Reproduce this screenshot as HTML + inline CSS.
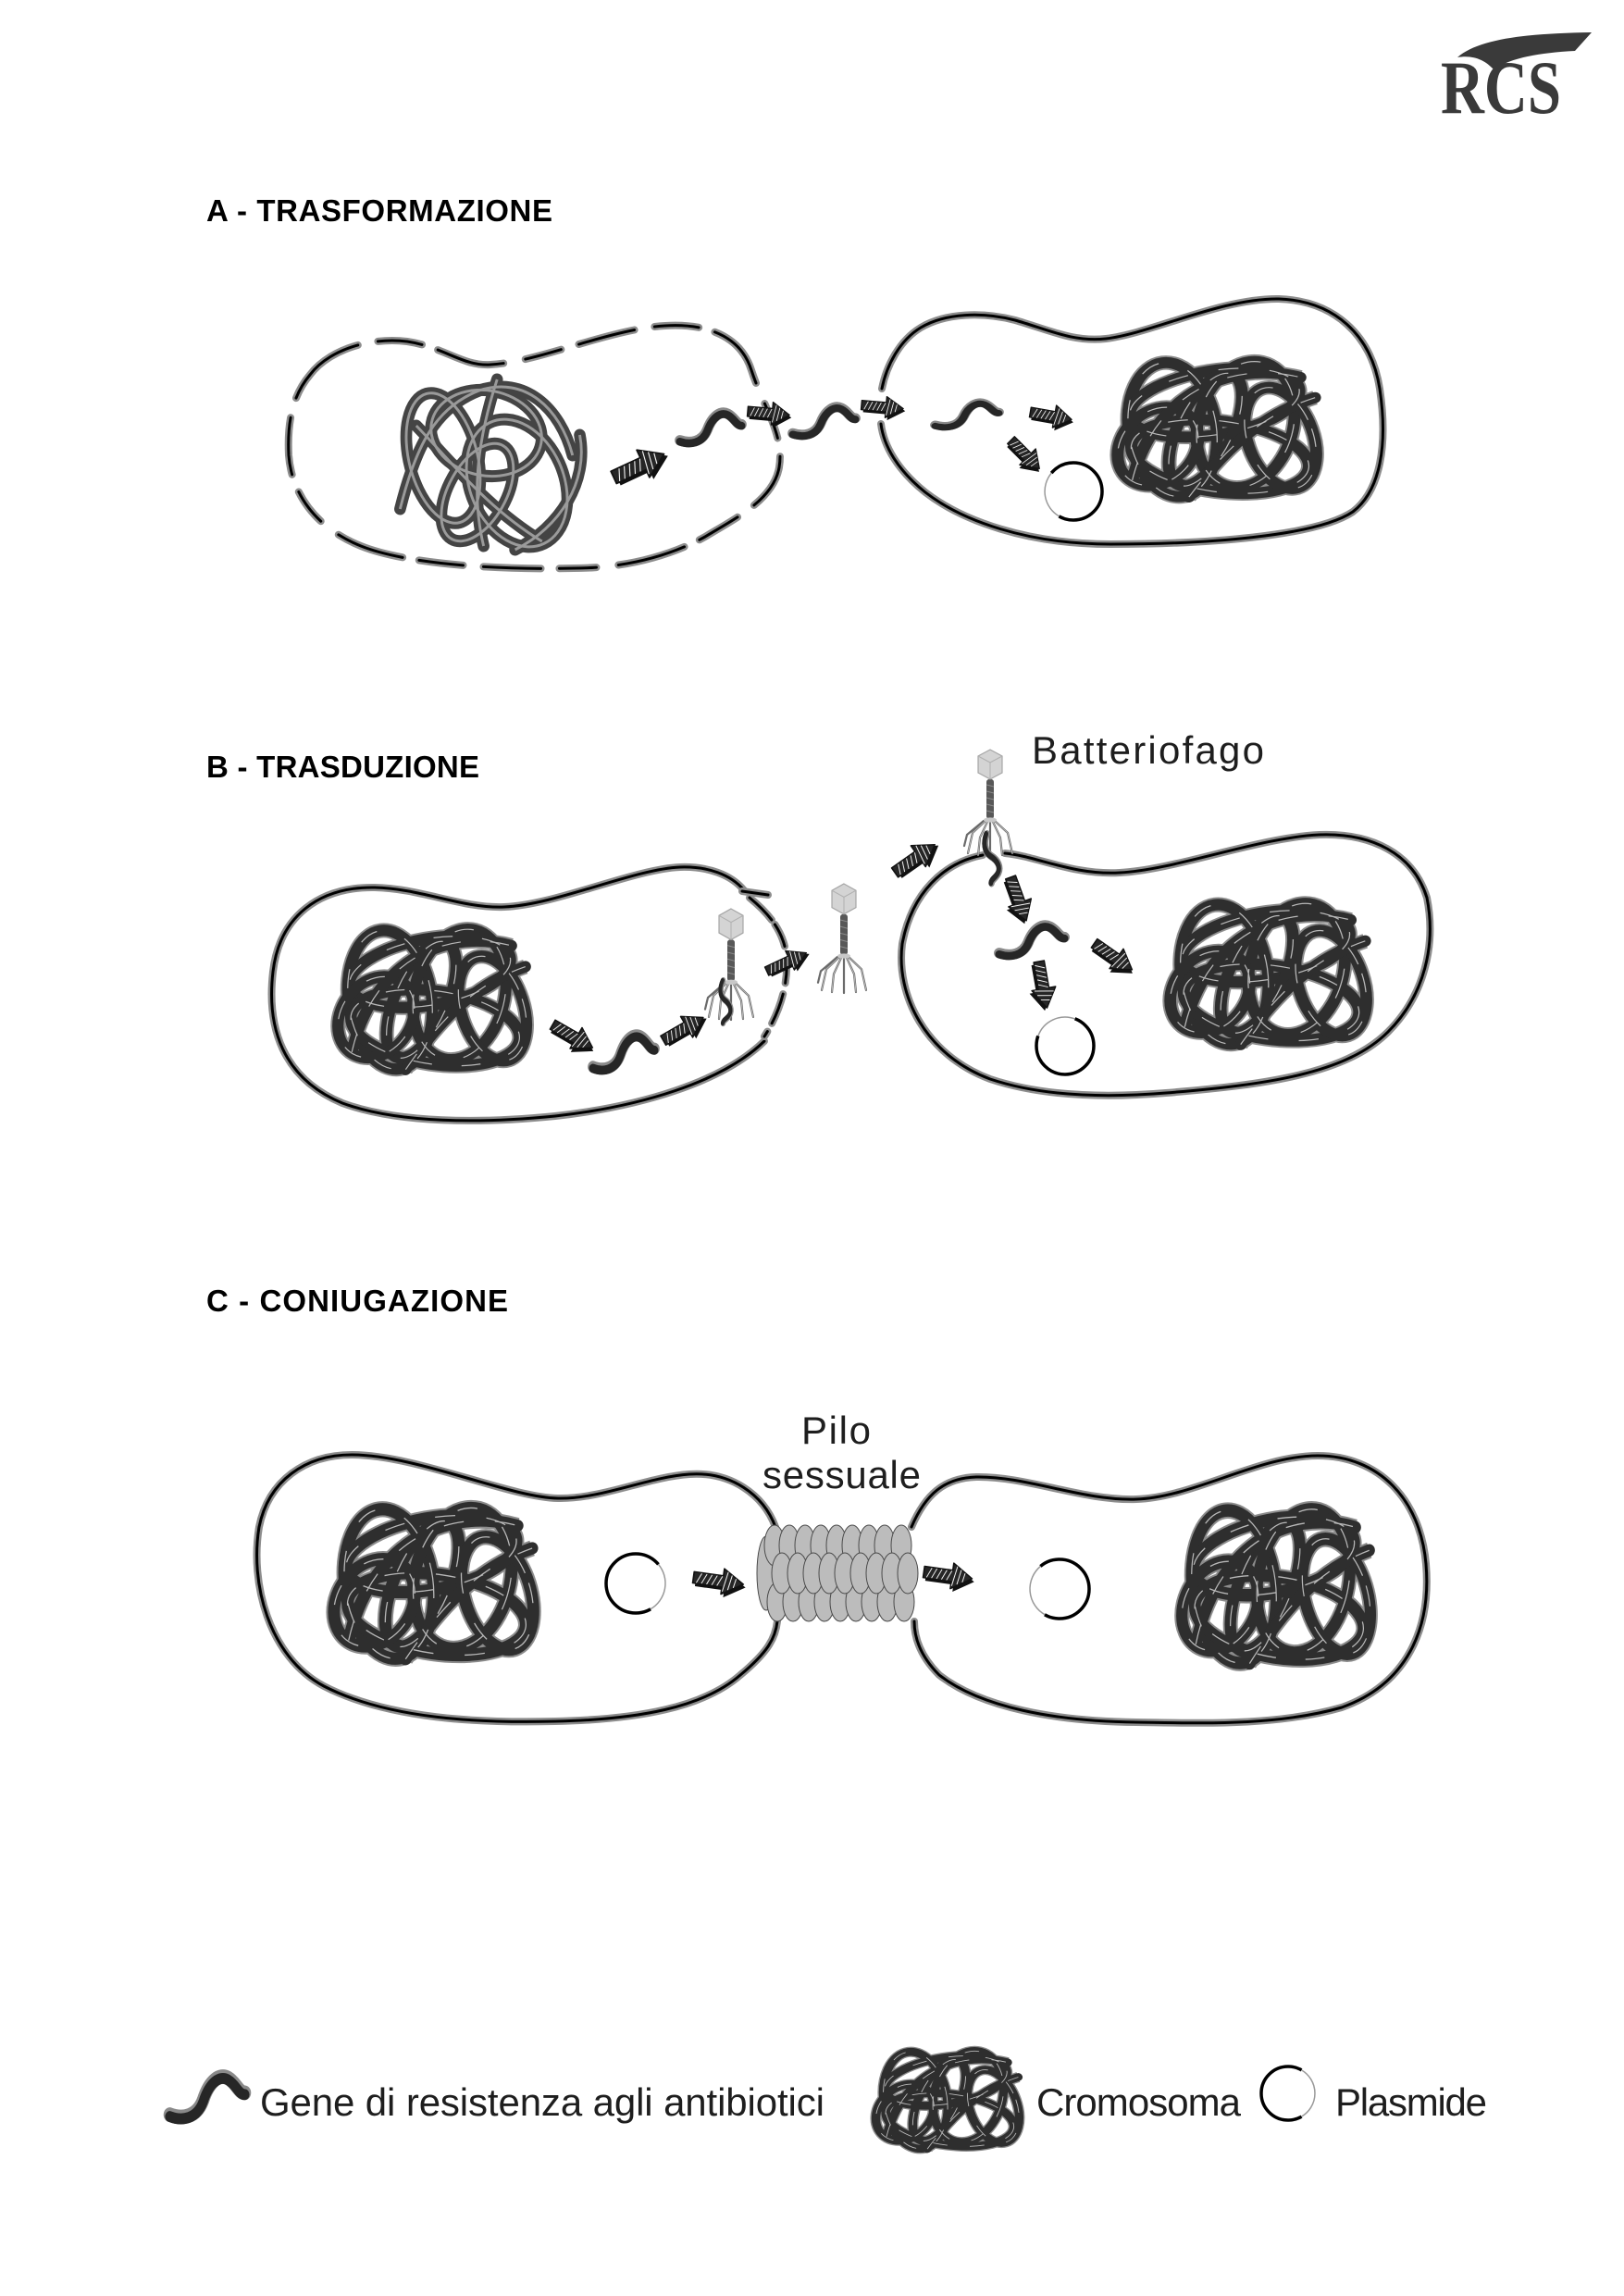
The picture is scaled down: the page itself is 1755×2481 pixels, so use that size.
<!DOCTYPE html>
<html>
<head>
<meta charset="utf-8">
<style>
html,body{margin:0;padding:0;background:#fff;}
svg{display:block;}
.memg{fill:none;stroke:#8d8d8d;stroke-width:8;stroke-linecap:round;}
.memb{fill:none;stroke:#000;stroke-width:3;stroke-linecap:round;}
.head{font-family:"Liberation Sans",Arial,sans-serif;font-weight:bold;font-size:33px;fill:#000;}
.lbl{font-family:"Liberation Sans",Arial,sans-serif;font-size:42px;fill:#1e1e1e;}
</style>
</head>
<body>
<svg width="1755" height="2481" viewBox="0 0 1755 2481" xmlns="http://www.w3.org/2000/svg" xmlns:xlink="http://www.w3.org/1999/xlink">
<defs>
  <symbol id="arr" viewBox="0 0 64 44" preserveAspectRatio="none" style="overflow:visible">
    <polygon points="4,16 38,16 38,6 62,24 38,42 38,32 4,32" fill="#111"/>
    <polygon points="1,12 35,12 35,2 59,20 35,38 35,28 1,28" fill="#262626" stroke="#111" stroke-width="1.8" stroke-linejoin="round"/>
    <g stroke="#f2f2f2" stroke-width="1.1">
      <line x1="5" y1="27" x2="10" y2="13"/>
      <line x1="11" y1="27" x2="16" y2="13"/>
      <line x1="17" y1="27" x2="22" y2="13"/>
      <line x1="23" y1="27" x2="28" y2="13"/>
      <line x1="29" y1="27" x2="34" y2="13"/>
      <line x1="36" y1="34" x2="40" y2="6"/>
      <line x1="42" y1="31" x2="45" y2="10"/>
      <line x1="48" y1="27" x2="50" y2="14"/>
    </g>
  </symbol>

  <symbol id="gene" viewBox="0 0 80 44" preserveAspectRatio="none" style="overflow:visible">
    <path d="M 4 38 C 16 42, 30 40, 36 26 C 42 10, 52 4, 60 8 C 68 12, 70 20, 76 20" fill="none" stroke="#8a8a8a" stroke-width="12" stroke-linecap="round" transform="translate(0,-1.5)"/>
    <path d="M 4 38 C 16 42, 30 40, 36 26 C 42 10, 52 4, 60 8 C 68 12, 70 20, 76 20" fill="none" stroke="#262626" stroke-width="9" stroke-linecap="round"/>
  </symbol>

  <g id="chrS">
    <ellipse cx="72" cy="98" rx="48" ry="80" transform="rotate(-8 72 98)"/>
    <ellipse cx="152" cy="92" rx="52" ry="76" transform="rotate(14 152 92)"/>
    <ellipse cx="118" cy="66" rx="94" ry="38" transform="rotate(-10 118 66)"/>
    <ellipse cx="124" cy="130" rx="98" ry="42" transform="rotate(8 124 130)"/>
    <ellipse cx="108" cy="98" rx="30" ry="72" transform="rotate(24 108 98)"/>
    <ellipse cx="190" cy="108" rx="36" ry="62" transform="rotate(-18 190 108)"/>
    <ellipse cx="56" cy="118" rx="40" ry="50" transform="rotate(38 56 118)"/>
    <path d="M 28 158 C 50 60, 130 14, 212 36"/>
    <path d="M 90 178 C 130 120, 170 80, 228 60"/>
  </g>
  <symbol id="chr" viewBox="0 0 240 190" preserveAspectRatio="none" style="overflow:visible">
    <use href="#chrS" fill="none" stroke="#8c8c8c" stroke-width="17"/>
    <use href="#chrS" fill="none" stroke="#2e2e2e" stroke-width="13" stroke-linecap="round"/>
    <use href="#chrS" fill="none" stroke="#b8b8b8" stroke-width="1.3" stroke-dasharray="22 34"/>
  </symbol>

  <g id="chrAS">
    <ellipse cx="70" cy="95" rx="38" ry="72" transform="rotate(-15 70 95)"/>
    <ellipse cx="118" cy="68" rx="62" ry="46" transform="rotate(10 118 68)"/>
    <ellipse cx="152" cy="122" rx="52" ry="72" transform="rotate(-25 152 122)"/>
    <path d="M 22 150 C 40 80, 62 40, 110 22 C 160 6, 200 40, 214 92"/>
    <ellipse cx="108" cy="132" rx="32" ry="58" transform="rotate(30 108 132)"/>
    <path d="M 150 194 C 200 170, 232 120, 222 70"/>
    <path d="M 40 60 C 80 100, 120 150, 180 185"/>
    <path d="M 130 10 C 110 70, 100 130, 115 190"/>
  </g>
  <symbol id="chrA" viewBox="0 0 240 200" preserveAspectRatio="none" style="overflow:visible">
    <use href="#chrAS" fill="none" stroke="#444" stroke-width="13" stroke-linecap="round"/>
    <use href="#chrAS" fill="none" stroke="#9a9a9a" stroke-width="3"/>
  </symbol>

  <symbol id="phage" viewBox="0 0 60 115" preserveAspectRatio="none" style="overflow:visible">
    <g fill="none" stroke-linecap="round">
      <g stroke="#6a6a6a" stroke-width="2.2">
        <path d="M 25 77 L 11 90 L 6 112"/>
        <path d="M 27 78 L 19 95 L 17 114"/>
        <path d="M 30 78 L 30 115"/>
        <path d="M 33 78 L 41 95 L 43 114"/>
        <path d="M 35 77 L 49 90 L 54 112"/>
        <path d="M 23 77 L 5 92 L 2 104"/>
      </g>
      <g stroke="#c4c4c4" stroke-width="0.8">
        <path d="M 25 77 L 11 90 L 6 112"/>
        <path d="M 27 78 L 19 95 L 17 114"/>
        <path d="M 33 78 L 41 95 L 43 114"/>
        <path d="M 35 77 L 49 90 L 54 112"/>
      </g>
    </g>
    <rect x="26" y="32" width="8" height="43" rx="3" fill="#585858"/>
    <g stroke="#8a8a8a" stroke-width="1">
      <line x1="26" y1="38" x2="34" y2="40"/><line x1="26" y1="45" x2="34" y2="47"/>
      <line x1="26" y1="52" x2="34" y2="54"/><line x1="26" y1="59" x2="34" y2="61"/>
      <line x1="26" y1="66" x2="34" y2="68"/>
    </g>
    <ellipse cx="30" cy="76" rx="7" ry="2.6" fill="#c8c8c8"/>
    <polygon points="30,0 43,7 43,25 30,32 17,25 17,7" fill="#d4d4d4" stroke="#a6a6a6" stroke-width="1.2"/>
    <polyline points="17,7 30,14 43,7" fill="none" stroke="#b0b0b0" stroke-width="1"/>
    <line x1="30" y1="14" x2="30" y2="32" stroke="#b0b0b0" stroke-width="1"/>
  </symbol>
</defs>

<!-- Logo -->
<path d="M 1575 62 C 1598 42, 1650 36, 1720 35 L 1702 55 C 1662 57, 1632 63, 1614 75 C 1605 65, 1592 59, 1575 62 Z" fill="#3a3a3a"/>
<text x="1557" y="122" font-family="'Liberation Serif','Times New Roman',serif" font-weight="bold" font-size="82" fill="#3a3a3a" textLength="130" lengthAdjust="spacingAndGlyphs">RCS</text>

<!-- Headings -->
<text class="head" x="223" y="239" textLength="374" lengthAdjust="spacing">A - TRASFORMAZIONE</text>
<text class="head" x="223" y="840" textLength="295" lengthAdjust="spacing">B - TRASDUZIONE</text>
<text class="head" x="223" y="1417" textLength="326" lengthAdjust="spacing">C - CONIUGAZIONE</text>

<!-- ============ SECTION A ============ -->
<g>
  <path class="memg" stroke-dasharray="62 22 48 18 74 24 40 20" d="M 335 405 C 355 378, 400 364, 440 369 C 480 375, 500 396, 530 394 C 580 391, 640 363, 700 354 C 760 345, 800 362, 812 400 C 825 440, 848 470, 842 505 C 836 540, 795 560, 762 580 C 722 602, 672 614, 620 614 C 540 616, 440 610, 390 590 C 340 570, 315 532, 312 492 C 310 452, 318 425, 335 405 Z"/>
  <path class="memb" stroke-dasharray="62 22 48 18 74 24 40 20" d="M 335 405 C 355 378, 400 364, 440 369 C 480 375, 500 396, 530 394 C 580 391, 640 363, 700 354 C 760 345, 800 362, 812 400 C 825 440, 848 470, 842 505 C 836 540, 795 560, 762 580 C 722 602, 672 614, 620 614 C 540 616, 440 610, 390 590 C 340 570, 315 532, 312 492 C 310 452, 318 425, 335 405 Z"/>
</g>
<use href="#chrA" x="411" y="400" width="233" height="200"/>

<path class="memg" d="M 953 420 C 958 395, 972 368, 995 354 C 1022 338, 1062 337, 1097 346 C 1132 356, 1160 370, 1195 366 C 1245 360, 1320 322, 1382 323 C 1442 325, 1482 362, 1491 420 C 1500 480, 1492 530, 1462 553 C 1422 580, 1300 588, 1200 588 C 1110 588, 1040 563, 1000 532 C 970 508, 955 482, 952 458"/>
<path class="memb" d="M 953 420 C 958 395, 972 368, 995 354 C 1022 338, 1062 337, 1097 346 C 1132 356, 1160 370, 1195 366 C 1245 360, 1320 322, 1382 323 C 1442 325, 1482 362, 1491 420 C 1500 480, 1492 530, 1462 553 C 1422 580, 1300 588, 1200 588 C 1110 588, 1040 563, 1000 532 C 970 508, 955 482, 952 458"/>
<use href="#chr" x="1196" y="375" width="237" height="173"/>

<use href="#arr" x="-33" y="-20" width="66" height="40" transform="translate(693 504) rotate(-25)"/>
<use href="#gene" x="-37" y="-21" width="74" height="42" transform="translate(768 462)"/>
<use href="#arr" x="-25" y="-15" width="50" height="30" transform="translate(832 448) rotate(5)"/>
<use href="#gene" x="-37" y="-20" width="75" height="40" transform="translate(890 455)"/>
<use href="#arr" x="-25" y="-14" width="50" height="28" transform="translate(955 441) rotate(5)"/>
<use href="#gene" x="-38" y="-17" width="76" height="34" transform="translate(1045 448)"/>
<use href="#arr" x="-25" y="-15" width="50" height="30" transform="translate(1137 451) rotate(10)"/>
<use href="#arr" x="-24" y="-15" width="48" height="30" transform="translate(1108 493) rotate(45)"/>
<g>
  <circle cx="1160" cy="531" r="31" fill="none" stroke="#000" stroke-width="3.5"/>
  <path d="M 1144.5 557.8 A 31 31 0 0 1 1136.3 511.1" fill="none" stroke="#fff" stroke-width="5"/>
  <path d="M 1144.5 557.8 A 31 31 0 0 1 1136.3 511.1" fill="none" stroke="#999" stroke-width="1.5"/>
</g>

<!-- ============ SECTION B ============ -->
<text class="lbl" x="1115" y="825" font-size="43" textLength="251" lengthAdjust="spacing">Batteriofago</text>

<!-- Left cell B -->
<path class="memg" d="M 804 962 C 790 945, 765 936, 735 937 C 685 939, 600 978, 545 980 C 500 982, 455 960, 405 959 C 345 958, 302 990, 295 1050 C 288 1110, 305 1165, 370 1192 C 430 1214, 520 1214, 600 1206 C 690 1196, 780 1170, 826 1125"/>
<path class="memb" d="M 804 962 C 790 945, 765 936, 735 937 C 685 939, 600 978, 545 980 C 500 982, 455 960, 405 959 C 345 958, 302 990, 295 1050 C 288 1110, 305 1165, 370 1192 C 430 1214, 520 1214, 600 1206 C 690 1196, 780 1170, 826 1125"/>
<path class="memg" d="M 802 963 L 830 967"/>
<path class="memb" d="M 802 963 L 830 967"/>
<path class="memg" stroke-dasharray="34 6 26 22 18 12 34 10" d="M 810 970 C 832 988, 848 1008, 850 1035 C 852 1065, 842 1095, 826 1120"/>
<path class="memb" stroke-dasharray="34 6 26 22 18 12 34 10" d="M 810 970 C 832 988, 848 1008, 850 1035 C 852 1065, 842 1095, 826 1120"/>
<use href="#chr" x="354" y="988" width="225" height="179"/>
<use href="#arr" x="-28" y="-16" width="55" height="32" transform="translate(620 1122) rotate(30)"/>
<use href="#gene" x="-37" y="-24" width="74" height="48" transform="translate(674 1137)"/>
<use href="#arr" x="-28" y="-16" width="55" height="32" transform="translate(741 1112) rotate(-30)"/>
<use href="#phage" x="760" y="982" width="60" height="120"/>
<use href="#gene" x="-25" y="-10" width="50" height="20" transform="translate(784 1083) rotate(100)"/>
<use href="#arr" x="-26" y="-14" width="52" height="28" transform="translate(852 1040) rotate(-25)"/>
<use href="#phage" x="882" y="955" width="60" height="118"/>

<!-- Right cell B -->
<path class="memg" d="M 1062 924 C 1020 932, 985 965, 975 1020 C 968 1075, 1000 1140, 1070 1166 C 1130 1186, 1200 1186, 1260 1181 C 1370 1172, 1455 1160, 1500 1115 C 1540 1075, 1552 1020, 1542 970 C 1527 922, 1482 900, 1426 902 C 1360 905, 1270 940, 1210 943 C 1160 946, 1120 925, 1086 922"/>
<path class="memb" d="M 1062 924 C 1020 932, 985 965, 975 1020 C 968 1075, 1000 1140, 1070 1166 C 1130 1186, 1200 1186, 1260 1181 C 1370 1172, 1455 1160, 1500 1115 C 1540 1075, 1552 1020, 1542 970 C 1527 922, 1482 900, 1426 902 C 1360 905, 1270 940, 1210 943 C 1160 946, 1120 925, 1086 922"/>
<use href="#chr" x="1253" y="960" width="234" height="180"/>
<use href="#phage" x="1040" y="810" width="60" height="115"/>
<use href="#gene" x="-29" y="-12" width="58" height="24" transform="translate(1072 928) rotate(95)"/>
<use href="#arr" x="-29" y="-17" width="58" height="34" transform="translate(991 928) rotate(-35)"/>
<use href="#arr" x="-28" y="-16" width="55" height="32" transform="translate(1100 974) rotate(70)"/>
<use href="#gene" x="-39" y="-21" width="78" height="42" transform="translate(1115 1016)"/>
<use href="#arr" x="-28" y="-16" width="55" height="32" transform="translate(1204 1036) rotate(35)"/>
<use href="#arr" x="-28" y="-16" width="56" height="32" transform="translate(1126 1066) rotate(80)"/>
<g>
  <circle cx="1151" cy="1130" r="31" fill="none" stroke="#000" stroke-width="3.5"/>
  <path d="M 1121.9 1119.4 A 31 31 0 0 1 1161.6 1100.9" fill="none" stroke="#fff" stroke-width="5"/>
  <path d="M 1121.9 1119.4 A 31 31 0 0 1 1161.6 1100.9" fill="none" stroke="#999" stroke-width="1.5"/>
</g>

<!-- ============ SECTION C ============ -->
<text class="lbl" x="866" y="1560" textLength="75" lengthAdjust="spacing">Pilo</text>
<text class="lbl" x="824" y="1608" textLength="171" lengthAdjust="spacing">sessuale</text>

<path class="memg" d="M 838 1650 C 825 1615, 790 1590, 745 1593 C 700 1596, 650 1620, 603 1619 C 550 1618, 450 1572, 380 1572 C 330 1572, 290 1600, 280 1650 C 270 1710, 290 1790, 350 1822 C 420 1858, 520 1862, 600 1860 C 690 1858, 760 1845, 800 1810 C 830 1785, 838 1770, 840 1752"/>
<path class="memb" d="M 838 1650 C 825 1615, 790 1590, 745 1593 C 700 1596, 650 1620, 603 1619 C 550 1618, 450 1572, 380 1572 C 330 1572, 290 1600, 280 1650 C 270 1710, 290 1790, 350 1822 C 420 1858, 520 1862, 600 1860 C 690 1858, 760 1845, 800 1810 C 830 1785, 838 1770, 840 1752"/>
<path class="memg" d="M 985 1650 C 1000 1615, 1020 1597, 1055 1596 C 1110 1595, 1170 1622, 1228 1620 C 1290 1618, 1360 1573, 1424 1573 C 1490 1573, 1535 1620, 1541 1690 C 1547 1760, 1520 1820, 1450 1845 C 1380 1865, 1300 1862, 1228 1861 C 1140 1860, 1060 1845, 1015 1810 C 995 1790, 988 1770, 988 1752"/>
<path class="memb" d="M 985 1650 C 1000 1615, 1020 1597, 1055 1596 C 1110 1595, 1170 1622, 1228 1620 C 1290 1618, 1360 1573, 1424 1573 C 1490 1573, 1535 1620, 1541 1690 C 1547 1760, 1520 1820, 1450 1845 C 1380 1865, 1300 1862, 1228 1861 C 1140 1860, 1060 1845, 1015 1810 C 995 1790, 988 1770, 988 1752"/>

<use href="#chr" x="349" y="1612" width="238" height="193"/>
<use href="#chr" x="1266" y="1613" width="225" height="197"/>

<!-- Pilus -->
<g fill="#bcbcbc" stroke="#4a4a4a" stroke-width="1">
  <ellipse cx="828" cy="1700" rx="10" ry="40"/>
  <ellipse cx="837" cy="1670" rx="11" ry="22"/><ellipse cx="853" cy="1670" rx="11" ry="22"/><ellipse cx="870" cy="1670" rx="11" ry="22"/>
  <ellipse cx="887" cy="1670" rx="11" ry="22"/><ellipse cx="904" cy="1670" rx="11" ry="22"/><ellipse cx="921" cy="1670" rx="11" ry="22"/>
  <ellipse cx="939" cy="1670" rx="11" ry="22"/><ellipse cx="956" cy="1670" rx="11" ry="22"/><ellipse cx="974" cy="1670" rx="11" ry="22"/>
  <ellipse cx="840" cy="1731" rx="11" ry="21"/><ellipse cx="857" cy="1731" rx="11" ry="21"/><ellipse cx="874" cy="1731" rx="11" ry="21"/>
  <ellipse cx="891" cy="1731" rx="11" ry="21"/><ellipse cx="908" cy="1731" rx="11" ry="21"/><ellipse cx="925" cy="1731" rx="11" ry="21"/>
  <ellipse cx="942" cy="1731" rx="11" ry="21"/><ellipse cx="959" cy="1731" rx="11" ry="21"/><ellipse cx="977" cy="1731" rx="11" ry="21"/>
  <ellipse cx="845" cy="1700" rx="11" ry="22"/><ellipse cx="862" cy="1700" rx="11" ry="22"/><ellipse cx="879" cy="1700" rx="11" ry="22"/>
  <ellipse cx="896" cy="1700" rx="11" ry="22"/><ellipse cx="913" cy="1700" rx="11" ry="22"/><ellipse cx="930" cy="1700" rx="11" ry="22"/>
  <ellipse cx="947" cy="1700" rx="11" ry="22"/><ellipse cx="964" cy="1700" rx="11" ry="22"/><ellipse cx="981" cy="1700" rx="11" ry="22"/>
</g>

<use href="#arr" x="-30" y="-17" width="60" height="34" transform="translate(778 1710) rotate(8)"/>
<use href="#arr" x="-29" y="-17" width="58" height="34" transform="translate(1026 1704) rotate(8)"/>

<g>
  <circle cx="687" cy="1711" r="32" fill="none" stroke="#000" stroke-width="3.5"/>
  <path d="M 711.5 1690.4 A 32 32 0 0 1 703 1738.7" fill="none" stroke="#fff" stroke-width="5"/>
  <path d="M 711.5 1690.4 A 32 32 0 0 1 703 1738.7" fill="none" stroke="#999" stroke-width="1.5"/>
</g>
<g>
  <circle cx="1145" cy="1717" r="32" fill="none" stroke="#000" stroke-width="3.5"/>
  <path d="M 1129 1744.7 A 32 32 0 0 1 1124.4 1692.5" fill="none" stroke="#fff" stroke-width="5"/>
  <path d="M 1129 1744.7 A 32 32 0 0 1 1124.4 1692.5" fill="none" stroke="#999" stroke-width="1.5"/>
</g>

<!-- ============ LEGEND ============ -->
<use href="#gene" x="-45" y="-29" width="90" height="58" transform="translate(224 2266)"/>
<text class="lbl" x="281" y="2286" font-size="41" textLength="610" lengthAdjust="spacing">Gene di resistenza agli antibiotici</text>
<use href="#chr" x="938" y="2205" width="171" height="125"/>
<text class="lbl" x="1120" y="2286" font-size="41" textLength="221" lengthAdjust="spacing">Cromosoma</text>
<g>
  <circle cx="1392" cy="2262" r="29" fill="none" stroke="#000" stroke-width="3.5"/>
  <path d="M 1406.5 2236.9 A 29 29 0 0 1 1406.5 2287.1" fill="none" stroke="#fff" stroke-width="5"/>
  <path d="M 1406.5 2236.9 A 29 29 0 0 1 1406.5 2287.1" fill="none" stroke="#999" stroke-width="1.5"/>
</g>
<text class="lbl" x="1443" y="2286" font-size="41" textLength="164" lengthAdjust="spacing">Plasmide</text>
</svg>
</body>
</html>
